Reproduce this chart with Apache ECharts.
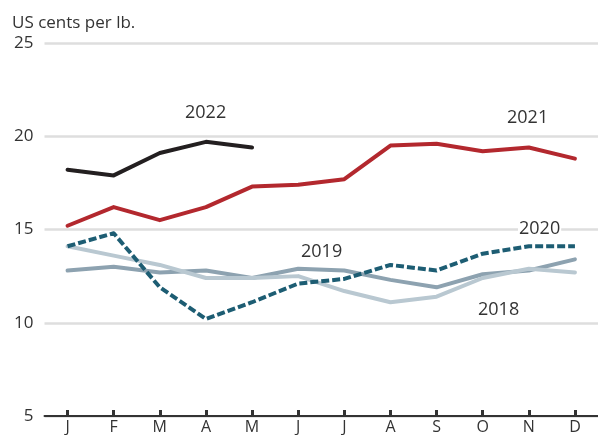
<!DOCTYPE html>
<html><head><meta charset="utf-8">
<script src="https://cdn.jsdelivr.net/npm/echarts@6/dist/echarts.min.js"></script>
<style>html,body{margin:0;padding:0;background:#fff}#c{width:598px;height:435px}</style>
</head><body><div id="c"></div>
<script>
const months = ['J','F','M','A','M','J','J','A','S','O','N','D'];
const y2018 = [14.1,13.6,13.1,12.4,12.4,12.5,11.7,11.1,11.4,12.4,12.9,12.7];
const y2019 = [12.8,13.0,12.7,12.8,12.4,12.9,12.8,12.3,11.9,12.6,12.8,13.4];
const y2020 = [14.1,14.8,11.9,10.2,11.1,12.1,12.35,13.1,12.8,13.7,14.1,14.1];
const y2021 = [15.2,16.2,15.5,16.2,17.3,17.4,17.7,19.5,19.6,19.2,19.4,18.8];
const y2022 = [18.2,17.9,19.1,19.7,19.4];
const yTicks = {min:5, max:25, interval:5};
const unitLabel = 'US cents per lb.';
const font = '"Open Sans", "Noto Sans", sans-serif';

const chart = echarts.init(document.getElementById('c'), null, {renderer:'canvas'});
const line = (name, data, color, extra) => Object.assign({
  name, type:'line', data, symbol:'none', smooth:false,
  lineStyle:{color, width:4, cap:'round', join:'round'}, animation:false
}, extra||{});
const lbl = (text, left, top) => ({type:'text', left, top, z:100,
  style:{text, fill:'#333', fontSize:18, fontFamily:font, backgroundColor:'#fff', padding:[0,1]}});
chart.setOption({
  animation:false,
  grid:{left:44.5, top:43, width:564, height:375, containLabel:false},
  xAxis:{type:'category', data:months, boundaryGap:true,
    axisLine:{lineStyle:{color:'#333', width:2}},
    axisTick:{show:true, inside:true, length:6, alignWithLabel:true, lineStyle:{color:'#333', width:3}},
    axisLabel:{color:'#333', fontSize:16, fontFamily:font, margin:3, interval:0},
    splitLine:{show:false}},
  yAxis:{type:'value', min:yTicks.min, max:yTicks.max, interval:yTicks.interval,
    axisLine:{show:false}, axisTick:{show:false},
    axisLabel:{color:'#333', fontSize:17, fontFamily:font, margin:11},
    splitLine:{lineStyle:{color:'#dedede', width:2.5}}},
  series:[
    line('2019', y2019, '#8da2b0', {z:2}),
    line('2018', y2018, '#b9c8d1', {z:3}),
    line('2020', y2020, '#1d5d73', {z:4, lineStyle:{color:'#1d5d73', width:4, type:[8,3], cap:'butt', join:'round'}}),
    line('2021', y2021, '#b3282e', {z:5}),
    line('2022', y2022, '#231f20', {z:6})
  ],
  graphic:[
    {type:'text', left:12, top:15, style:{text:unitLabel, fill:'#333', fontSize:17, fontFamily:font}},
    lbl('2022', 184, 104),
    lbl('2021', 506, 109),
    lbl('2020', 518, 220),
    lbl('2019', 300, 243),
    lbl('2018', 477, 301)
  ]
});
</script></body></html>
